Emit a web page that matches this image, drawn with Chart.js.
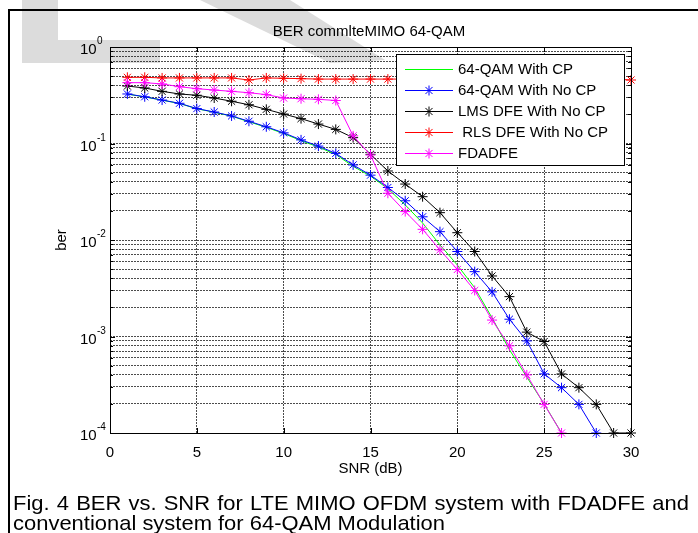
<!DOCTYPE html>
<html>
<head>
<meta charset="utf-8">
<title>BER commlteMIMO 64-QAM</title>
<script src="https://cdn.jsdelivr.net/npm/chart.js@4.4.0/dist/chart.umd.min.js"></script>
<style>
  html, body { margin: 0; padding: 0; background: #fff; }
  #wrap { width: 698px; height: 533px; }
</style>
</head>
<body>
<div id="wrap"><canvas id="berChart" width="698" height="533"></canvas></div>
<script>
// SNR points (dB)
const snr = [1, 2, 3, 4, 5, 6, 7, 8, 9, 10, 11, 12, 13, 14, 15, 16, 17, 18, 19, 20, 21, 22, 23, 24, 25, 26, 27, 28, 29, 30];

// BER (null = below 1e-4, not plotted)
const qamWithCP = [0.325, 0.304, 0.281, 0.260, 0.229, 0.211, 0.192, 0.168, 0.147, 0.127, 0.107, 0.092, 0.077, 0.058, 0.046, 0.034, 0.0231, 0.0150, 0.0089, 0.0055, 0.0032, 0.00156, 0.00073, 0.00038, 0.0002, 0.0001, null, null, null, null];
const qamNoCP = [0.326, 0.305, 0.282, 0.261, 0.230, 0.212, 0.193, 0.170, 0.149, 0.129, 0.109, 0.094, 0.079, 0.060, 0.047, 0.035, 0.0255, 0.0174, 0.0122, 0.0076, 0.0047, 0.0029, 0.00151, 0.0009, 0.00041, 0.000295, 0.000198, 0.0001, null, null];
const lmsDfe = [0.394, 0.376, 0.347, 0.326, 0.316, 0.296, 0.274, 0.252, 0.226, 0.202, 0.181, 0.159, 0.140, 0.115, 0.0773, 0.0519, 0.038, 0.0281, 0.0192, 0.0119, 0.0076, 0.00424, 0.00259, 0.00111, 0.000887, 0.000409, 0.000295, 0.000198, 0.0001, 0.0001];
const rlsDfe = [0.485, 0.485, 0.478, 0.478, 0.478, 0.478, 0.478, 0.455, 0.478, 0.474, 0.47, 0.465, 0.465, 0.465, 0.465, 0.465, 0.465, 0.465, 0.465, 0.465, 0.465, 0.465, 0.465, 0.465, 0.465, 0.465, 0.465, 0.465, 0.465, 0.455];
const fdadfe = [0.427, 0.427, 0.414, 0.388, 0.370, 0.358, 0.347, 0.336, 0.321, 0.296, 0.291, 0.287, 0.279, 0.120, 0.076, 0.0305, 0.0197, 0.0129, 0.0079, 0.00495, 0.0030, 0.00148, 0.0008, 0.0004, 0.000198, 0.0001, null, null, null, null];

// axis ticks
const xTicks = [0, 5, 10, 15, 20, 25, 30];
const yDecades = [1e-4, 1e-3, 1e-2, 1e-1, 1];
const yExponents = ['-4', '-3', '-2', '-1', '0'];
const yMinorSteps = [1, 2, 3, 4, 5, 6, 7, 8, 9];

const legendLabels = ['64-QAM With CP', '64-QAM With No CP', 'LMS DFE With No CP', ' RLS DFE With No CP', 'FDADFE'];
const chartTitle = 'BER commlteMIMO 64-QAM';
const xTitle = 'SNR (dB)';
const yTitle = 'ber';
const caption1 = 'Fig. 4 BER vs. SNR for LTE MIMO OFDM system with FDADFE and';
const caption2 = 'conventional system for 64-QAM Modulation';

// every grid line value on the log axis: 1..9 x 10^n
const yGrid = [];
yDecades.slice(0, -1).forEach(d => yMinorSteps.forEach(s => yGrid.push(+(s * d).toPrecision(3))));
yGrid.push(1);

const FONT = '"Liberation Sans", Arial, sans-serif';
const gridColor = 'rgba(0,0,0,0.7)';

function series(vals) {
  return snr.map((x, i) => ({ x: x, y: vals[i] })).filter(p => p.y !== null);
}

function drawStar(ctx, x, y, r, color) {
  ctx.save();
  ctx.strokeStyle = color;
  ctx.lineWidth = 1;
  ctx.beginPath();
  ctx.moveTo(x - r, y); ctx.lineTo(x + r, y);
  ctx.moveTo(x, y - r); ctx.lineTo(x, y + r);
  const d = r * Math.SQRT1_2;
  ctx.moveTo(x - d, y - d); ctx.lineTo(x + d, y + d);
  ctx.moveTo(x - d, y + d); ctx.lineTo(x + d, y - d);
  ctx.stroke();
  ctx.restore();
}

const colors = ['#00ff00', '#0000ff', '#000000', '#ff0000', '#ff00ff'];
const hasMarker = [false, true, true, true, true];

const decor = {
  id: 'decor',
  beforeDraw(chart) {
    const ctx = chart.ctx;
    ctx.save();
    ctx.fillStyle = '#fff';
    ctx.fillRect(0, 0, chart.width, chart.height);
    // faint watermark behind the figure
    ctx.fillStyle = '#dcdcdc';
    ctx.fillRect(22, 0, 36, 63);
    ctx.fillRect(22, 40, 138, 23);
    ctx.beginPath();
    ctx.moveTo(200, 0); ctx.lineTo(290, 0); ctx.lineTo(385, 60); ctx.lineTo(330, 63);
    ctx.closePath();
    ctx.fill();
    ctx.restore();
  },
  afterDraw(chart) {
    const ctx = chart.ctx;
    const a = chart.chartArea;
    const xs = chart.scales.x, ys = chart.scales.y;
    ctx.save();

    // axes box + inward ticks
    ctx.strokeStyle = '#000';
    ctx.lineWidth = 1;
    ctx.strokeRect(a.left + 0.5, a.top + 0.5, a.right - a.left, a.bottom - a.top);
    ctx.beginPath();
    xTicks.forEach(v => {
      const px = Math.round(xs.getPixelForValue(v)) + 0.5;
      ctx.moveTo(px, a.bottom); ctx.lineTo(px, a.bottom - 5);
      ctx.moveTo(px, a.top); ctx.lineTo(px, a.top + 5);
    });
    yGrid.forEach(v => {
      const py = Math.round(ys.getPixelForValue(v)) + 0.5;
      const len = yDecades.includes(v) ? 5 : 3;
      ctx.moveTo(a.left, py); ctx.lineTo(a.left + len, py);
      ctx.moveTo(a.right, py); ctx.lineTo(a.right - len, py);
    });
    ctx.stroke();

    ctx.fillStyle = '#000';
    // x tick labels
    ctx.font = '15px ' + FONT;
    ctx.textAlign = 'center';
    ctx.textBaseline = 'alphabetic';
    xTicks.forEach(v => ctx.fillText(String(v), xs.getPixelForValue(v), a.bottom + 24));
    // y tick labels 10^n
    yDecades.forEach((v, i) => {
      const py = ys.getPixelForValue(v);
      ctx.textAlign = 'left';
      ctx.font = '15px ' + FONT;
      ctx.fillText('10', 80, py + 7);
      ctx.font = '10px ' + FONT;
      ctx.fillText(yExponents[i], 97, py - 3);
    });
    // titles
    ctx.font = '15px ' + FONT;
    ctx.textAlign = 'center';
    ctx.fillText(chartTitle, 369, 36);
    ctx.fillText(xTitle, (a.left + a.right) / 2, a.bottom + 40);
    ctx.save();
    ctx.translate(62, (a.top + a.bottom) / 2);
    ctx.rotate(-Math.PI / 2);
    ctx.textBaseline = 'middle';
    ctx.fillText(yTitle, 0, 0);
    ctx.restore();

    // legend
    const lx = 396, ly = 54, lw = 228, lh = 111;
    ctx.fillStyle = '#fff';
    ctx.fillRect(lx, ly, lw, lh);
    ctx.strokeStyle = '#000';
    ctx.lineWidth = 1;
    ctx.strokeRect(lx + 0.5, ly + 0.5, lw, lh);
    ctx.font = '15px ' + FONT;
    ctx.textAlign = 'left';
    ctx.textBaseline = 'middle';
    legendLabels.forEach((lab, i) => {
      const yy = 69 + i * 21;
      ctx.strokeStyle = colors[i];
      ctx.beginPath();
      ctx.moveTo(405, yy + 0.5); ctx.lineTo(453, yy + 0.5);
      ctx.stroke();
      if (hasMarker[i]) drawStar(ctx, 429, yy + 0.5, 5, colors[i]);
      ctx.fillStyle = '#000';
      ctx.fillText(lab, 458, yy + 1);
    });

    // caption; first line justified
    ctx.font = '21px "Liberation Sans Narrow", "Liberation Sans", Arial, sans-serif';
    ctx.textAlign = 'left';
    ctx.textBaseline = 'alphabetic';
    const left = 13, right = 689, line2Right = 445;
    const sx = (line2Right - left) / ctx.measureText(caption2).width;
    const words = caption1.split(' ');
    const wsum = words.reduce((s, w) => s + ctx.measureText(w).width, 0);
    const gap = (right - left - wsum * sx) / (words.length - 1);
    let cx = left;
    words.forEach(w => {
      ctx.save();
      ctx.translate(cx, 510);
      ctx.scale(sx, 1);
      ctx.fillText(w, 0, 0);
      ctx.restore();
      cx += ctx.measureText(w).width * sx + gap;
    });
    ctx.save();
    ctx.translate(left, 530);
    ctx.scale(sx, 1);
    ctx.fillText(caption2, 0, 0);
    ctx.restore();

    // outer frame
    ctx.strokeStyle = '#000';
    ctx.lineWidth = 2;
    ctx.beginPath();
    ctx.moveTo(9, 533); ctx.lineTo(9, 10); ctx.lineTo(698, 10);
    ctx.stroke();
    ctx.restore();
  }
};

const sets = [qamWithCP, qamNoCP, lmsDfe, rlsDfe, fdadfe].map((vals, i) => ({
  label: legendLabels[i],
  data: series(vals),
  borderColor: colors[i],
  backgroundColor: colors[i],
  borderWidth: 1,
  pointStyle: 'star',
  pointRadius: hasMarker[i] ? 5 : 0,
  pointBorderWidth: 1,
  pointBorderColor: colors[i],
  tension: 0,
  fill: false,
  clip: false,
  order: 5 - i
}));

new Chart(document.getElementById('berChart'), {
  type: 'line',
  data: { datasets: sets },
  options: {
    responsive: false,
    animation: false,
    devicePixelRatio: 1,
    layout: { padding: { left: 110, right: 67, top: 47, bottom: 100 } },
    plugins: { legend: { display: false }, tooltip: { enabled: false }, title: { display: false } },
    scales: {
      x: {
        type: 'linear', min: 0, max: 30,
        afterBuildTicks: s => { s.ticks = xTicks.map(v => ({ value: v })); },
        ticks: { display: false },
        grid: { color: gridColor, drawTicks: false, lineWidth: 1 },
        border: { display: false, dash: [2, 1] }
      },
      y: {
        type: 'logarithmic', min: 1e-4, max: 1,
        afterBuildTicks: s => { s.ticks = yGrid.map(v => ({ value: v })); },
        ticks: { display: false },
        grid: { color: gridColor, drawTicks: false, lineWidth: 1 },
        border: { display: false, dash: [2, 1] }
      }
    }
  },
  plugins: [decor]
});
</script>
</body>
</html>
